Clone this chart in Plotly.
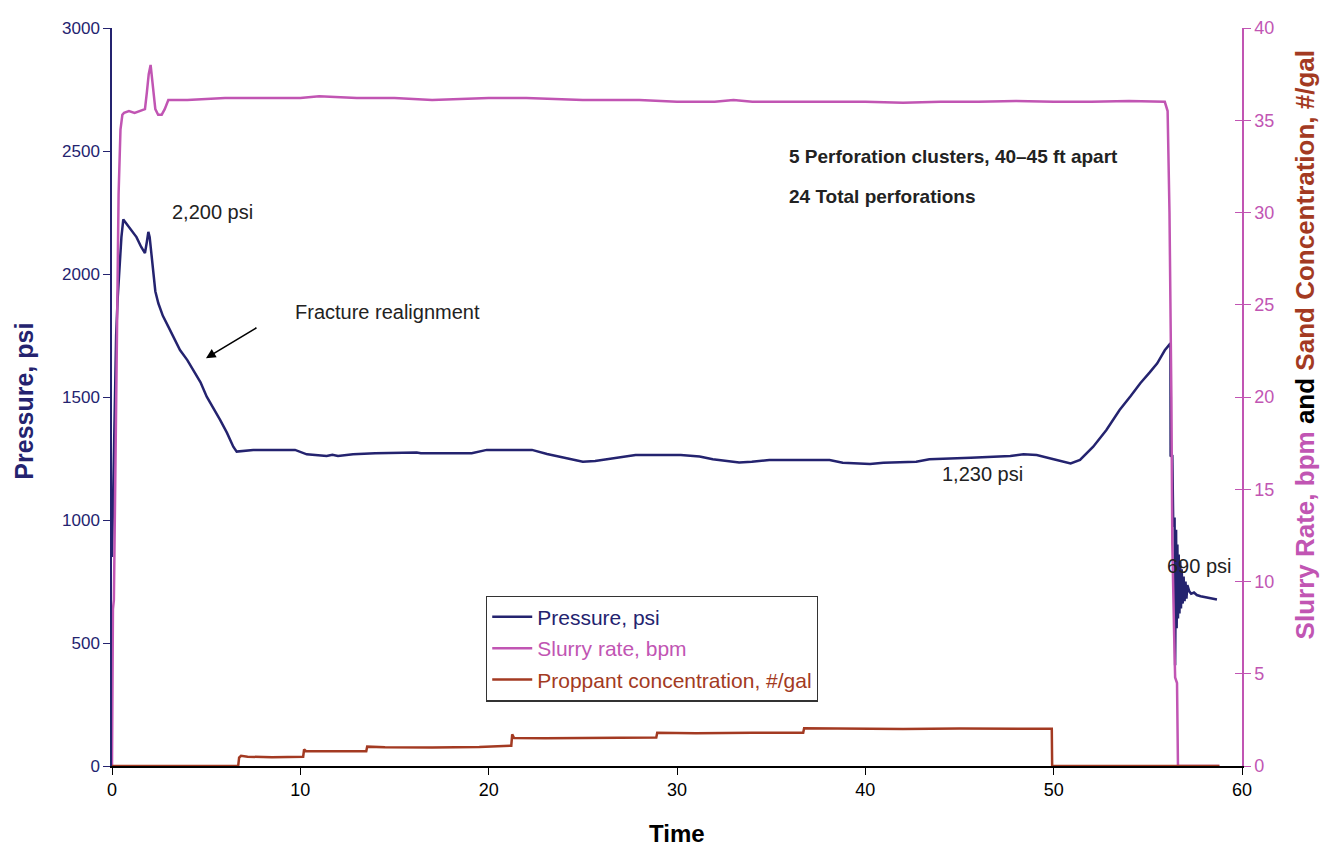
import plotly.graph_objects as go

# ---------------- data ----------------
pressure_time = [0.0, 0.05, 0.1, 0.15, 0.22, 0.3, 0.4, 0.5, 0.6, 0.8, 1.0, 1.3, 1.55, 1.75, 1.85, 1.93, 2.0, 2.1,
                 2.19, 2.3, 2.46, 2.7, 2.99, 3.3, 3.61, 4.0, 4.32, 4.7, 5.03, 5.4, 5.74, 6.1, 6.44, 6.62, 6.8,
                 7.5, 9.72, 10.34, 11.4, 11.7, 12.0, 12.8, 13.97, 16.18, 16.4, 19.1, 19.9, 22.3, 23.1, 24.3,
                 25.0, 25.65, 26.5, 27.8, 30.2, 31.2, 31.9, 33.3, 33.97, 34.9, 38.1, 38.8, 40.25, 40.96, 42.7,
                 43.4, 45.6, 47.7, 48.4, 49.1, 50.0, 50.9, 51.4, 52.1, 52.8, 53.5, 54.1, 54.6, 55.1, 55.5,
                 55.9, 56.2, 56.21, 56.3, 56.35, 56.42, 56.45, 56.5, 56.53, 56.57, 56.6, 56.64, 56.68, 56.72,
                 56.76, 56.8, 56.85, 56.9, 56.95, 57.0, 57.05, 57.1, 57.2, 57.3, 57.45, 57.6, 57.8, 58.1,
                 58.4, 58.67]
pressure_psi = [850, 1050, 1250, 1480, 1750, 1900, 2050, 2150, 2222, 2200, 2180, 2150, 2110, 2085, 2130, 2171,
                2150, 2077, 1989, 1930, 1881, 1830, 1786, 1740, 1691, 1650, 1610, 1560, 1501, 1455, 1407,
                1355, 1298, 1278, 1280, 1285, 1285, 1267, 1260, 1265, 1260, 1267, 1271, 1274, 1271, 1271,
                1285, 1285, 1268, 1247, 1237, 1240, 1250, 1264, 1264, 1258, 1247, 1234, 1237, 1244, 1244,
                1233, 1228, 1233, 1237, 1247, 1253, 1260, 1267, 1264, 1247, 1230, 1244, 1298, 1366, 1447,
                1505, 1556, 1600, 1637, 1690, 1718, 1258, 1264, 972, 1010, 410, 960, 560, 900, 600, 860,
                620, 830, 640, 800, 660, 770, 670, 750, 680, 735, 710, 700, 705, 695, 690, 685, 680, 677]

slurry_time = [0.0, 0.02, 0.05, 0.1, 0.15, 0.2, 0.27, 0.35, 0.45, 0.55, 0.64, 0.9, 1.2, 1.5, 1.75, 1.85, 1.95,
               2.05, 2.15, 2.3, 2.45, 2.64, 2.8, 2.99, 4.0, 6.0, 8.0, 10.0, 11.0, 13.0, 15.0, 17.0, 20.0,
               22.0, 25.0, 28.0, 30.0, 32.0, 33.0, 34.0, 36.0, 38.0, 40.0, 42.0, 44.0, 46.0, 48.0, 50.0,
               52.0, 54.0, 55.5, 55.9, 56.05, 56.15, 56.25, 56.3, 56.4, 56.45, 56.55, 56.6, 58.8]
slurry_bpm = [0.0, 3.0, 8.5, 9.0, 13.7, 20.0, 27.0, 31.0, 34.5, 35.3, 35.4, 35.5, 35.4, 35.5, 35.6, 36.5, 37.5,
              38.0, 37.0, 35.6, 35.3, 35.3, 35.6, 36.1, 36.1, 36.2, 36.2, 36.2, 36.3, 36.2, 36.2, 36.1, 36.2,
              36.2, 36.1, 36.1, 36.0, 36.0, 36.1, 36.0, 36.0, 36.0, 36.0, 35.95, 36.0, 36.0, 36.05, 36.0,
              36.0, 36.05, 36.0, 36.0, 35.5, 30.0, 20.0, 12.0, 7.0, 4.8, 4.5, 0.0, 0.0]

proppant_time = [0.0, 6.7, 6.75, 6.85, 7.2, 8.5, 10.15, 10.2, 10.3, 11.5, 12.5, 13.5, 13.55, 14.5, 17.0, 19.5,
                 21.2, 21.25, 21.35, 23.0, 26.0, 28.9, 28.95, 31.0, 34.0, 36.7, 36.75, 39.0, 42.0, 45.0,
                 48.0, 49.9, 49.92, 58.8]
proppant_ppg = [0.0, 0.0, 0.45, 0.55, 0.5, 0.48, 0.5, 0.9, 0.8, 0.78, 0.8, 0.8, 1.05, 1.02, 1.0, 1.03,
                1.1, 1.72, 1.52, 1.5, 1.52, 1.55, 1.8, 1.78, 1.8, 1.8, 2.05, 2.02, 2.0, 2.03, 2.0, 2.02, 0.0, 0.0]

x_ticks = [0, 10, 20, 30, 40, 50, 60]
p_ticks = [0, 500, 1000, 1500, 2000, 2500, 3000]
r_ticks = [0, 5, 10, 15, 20, 25, 30, 35, 40]

NAVY = "#24236F"
MAG = "#C155B3"
BROWN = "#A33A22"
FONT = "Liberation Sans, Arial, sans-serif"

fig = go.Figure()
fig.add_trace(go.Scatter(x=pressure_time, y=pressure_psi, mode="lines", line=dict(color=NAVY, width=2.5),
                         name="<span style='color:%s'>Pressure, psi</span>" % NAVY, legendgroup="a"))
fig.add_trace(go.Scatter(x=slurry_time, y=slurry_bpm, mode="lines", line=dict(color=MAG, width=2.5),
                         name="<span style='color:%s'>Slurry rate, bpm</span>" % MAG, yaxis="y2", legendgroup="b"))
fig.add_trace(go.Scatter(x=proppant_time, y=proppant_ppg, mode="lines", line=dict(color=BROWN, width=2.5),
                         name="<span style='color:%s'>Proppant concentration, #/gal</span>" % BROWN, yaxis="y2",
                         legendgroup="c"))
# dummy trace so yaxis3 (inner right ticks) is drawn
fig.add_trace(go.Scatter(x=[None], y=[None], yaxis="y3", showlegend=False, hoverinfo="skip"))

fig.update_layout(
    width=1320, height=847,
    margin=dict(l=112, r=78, t=28, b=81, autoexpand=False),
    paper_bgcolor="white", plot_bgcolor="white",
    font=dict(family=FONT, size=18, color="black"),
    xaxis=dict(range=[0, 60], tickvals=x_ticks, showgrid=False, zeroline=False, showline=True,
               linecolor="black", linewidth=1.5, ticks="outside", ticklen=7, tickcolor="black",
               tickfont=dict(size=18, color="black"), automargin=False),
    yaxis=dict(range=[0, 3000], tickvals=p_ticks, showgrid=False, zeroline=False, showline=True,
               linecolor=NAVY, linewidth=1.5, ticks="outside", ticklen=7, tickcolor=NAVY,
               tickfont=dict(size=17, color=NAVY), automargin=False),
    yaxis2=dict(range=[0, 40], tickvals=r_ticks, overlaying="y", side="right", anchor="x",
                showgrid=False, zeroline=False, showline=True, linecolor=MAG, linewidth=1.5,
                ticks="outside", ticklen=7, tickcolor=MAG, tickfont=dict(size=18, color=MAG),
                automargin=False),
    yaxis3=dict(range=[0, 40], tickvals=r_ticks, overlaying="y", side="right", anchor="x",
                showgrid=False, zeroline=False, showline=False, ticks="inside", ticklen=7,
                tickcolor=MAG, showticklabels=False, automargin=False),
    showlegend=True,
    legend=dict(x=0.331, y=0.231, xanchor="left", yanchor="top", bgcolor="white",
                bordercolor="#333333", borderwidth=1.2, font=dict(size=21), tracegroupgap=1,
                itemwidth=40),
)

ann = dict(showarrow=False, font=dict(size=20, color="#222222"), xanchor="left", yanchor="middle")
fig.add_annotation(x=3.08, y=2252, text="2,200 psi", **ann)
fig.add_annotation(x=9.61, y=1846, text="Fracture realignment", **ann)
fig.add_annotation(x=43.97, y=1187, text="1,230 psi", **ann)
fig.add_annotation(x=55.92, y=813, text="690 psi", **ann)
bann = dict(showarrow=False, font=dict(size=19, color="#222222"), xanchor="left", yanchor="middle")
fig.add_annotation(x=35.85, y=2476, text="<b>5 Perforation clusters, 40\u201345 ft apart</b>", **bann)
fig.add_annotation(x=35.85, y=2317, text="<b>24 Total perforations</b>", **bann)
fig.add_annotation(x=4.99, y=1658, ax=7.75, ay=1785, axref="x", ayref="y", xref="x", yref="y",
                   showarrow=True, arrowhead=2, arrowsize=1.2, arrowwidth=1.6, arrowcolor="black", text="")
# axis titles
fig.add_annotation(xref="paper", yref="paper", x=0.5, y=-0.0915, xanchor="center", yanchor="middle",
                   showarrow=False, font=dict(size=24, color="black"), text="<b>Time</b>")
fig.add_annotation(xref="paper", yref="paper", x=-0.0779, y=0.495, xanchor="center", yanchor="middle",
                   textangle=-90, showarrow=False, font=dict(size=25, color=NAVY), text="<b>Pressure, psi</b>")
fig.add_annotation(xref="paper", yref="paper", x=1.0558, y=0.57, xanchor="center", yanchor="middle",
                   textangle=-90, showarrow=False, font=dict(size=26, color="black"),
                   text="<b><span style='color:%s'>Slurry Rate, bpm</span> and "
                        "<span style='color:%s'>Sand Concentration, #/gal</span></b>" % (MAG, BROWN))

fig.write_html("out.html")
